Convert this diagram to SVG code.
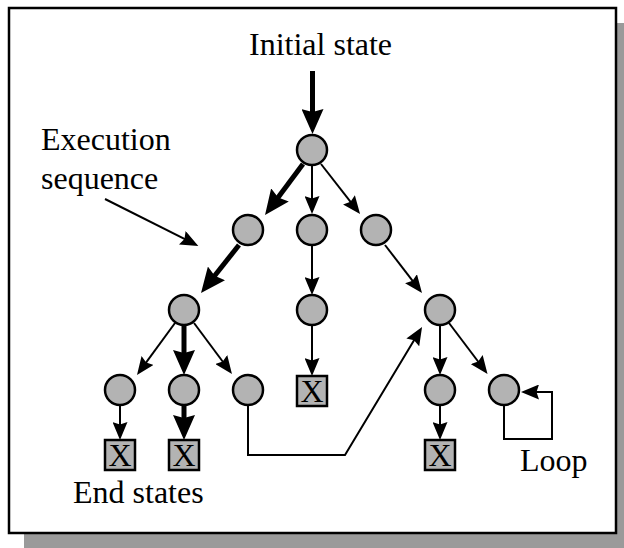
<svg xmlns="http://www.w3.org/2000/svg" width="624" height="548" viewBox="0 0 624 548">
  <style>
    .state { fill: #b3b3b3; stroke: #000; stroke-width: 2.5; }
    .end { fill: #b3b3b3; stroke: #000; stroke-width: 2.5; }
    .lbl { font-family: "Liberation Serif", "Times New Roman", serif; font-size: 32px; fill: #000; }
    .x { font-family: "Liberation Serif", "Times New Roman", serif; font-size: 32px; fill: #000; text-anchor: middle; }
    .thin { fill: none; stroke: #000; stroke-width: 2; marker-end: url(#headThin); }
    .thick { fill: none; stroke: #000; stroke-width: 5; marker-end: url(#headThick); }
  </style>
  <defs>
    <marker id="headThin" markerUnits="userSpaceOnUse" markerWidth="18" markerHeight="15" refX="8" refY="7.5" orient="auto" viewBox="0 0 18 15">
      <path d="M0,0 L18,7.5 L0,15 L2.5,7.5 Z" fill="#000"/>
    </marker>
    <marker id="headThick" markerUnits="userSpaceOnUse" markerWidth="25" markerHeight="22" refX="11" refY="11" orient="auto" viewBox="0 0 25 22">
      <path d="M0,0 L25,11 L0,22 L3,11 Z" fill="#000"/>
    </marker>
  </defs>

  <!-- framed panel with drop shadow -->
  <g id="frame">
    <rect x="24" y="23" width="607" height="530" fill="#9a9a9a"/>
    <rect x="9" y="8" width="607" height="525" fill="#fff" stroke="#000" stroke-width="2.5"/>
  </g>

  <!-- labels -->
  <g id="labels">
    <text class="lbl" x="249" y="55">Initial state</text>
    <text class="lbl" x="41" y="150">Execution</text>
    <text class="lbl" x="41" y="189">sequence</text>
    <text class="lbl" x="73" y="503">End states</text>
    <text class="lbl" x="520" y="471">Loop</text>
  </g>

  <!-- transitions -->
  <g id="connectors">
    <path class="thick" d="M312.5,71 L312.5,120"/>
    <path class="thick" d="M303,164 L273.4,203.8"/>
    <path class="thin" d="M312,165 L312,204"/>
    <path class="thin" d="M321,164 L353.9,206.1"/>
    <path class="thick" d="M239,245 L209.7,282"/>
    <path class="thin" d="M312,245 L312,285"/>
    <path class="thin" d="M385,245 L415.9,285.1"/>
    <path class="thin" d="M175,323 L142.9,366.9"/>
    <path class="thick" d="M184,325 L184,361"/>
    <path class="thin" d="M194,323 L226,366"/>
    <path class="thin" d="M312,325 L312,366"/>
    <path class="thin" d="M440,325 L440,365"/>
    <path class="thin" d="M449,323 L481.5,366"/>
    <path class="thin" d="M120,405 L120,430"/>
    <path class="thick" d="M184,405 L184,426"/>
    <path class="thin" d="M440,405 L440,430"/>
    <path class="thin" d="M248,405 L248,455 L345,455 L416.9,335.6"/>
    <path class="thin" d="M504,405 L504,439 L552,439 L552,392 L531,392"/>
    <!-- pointer from the "Execution sequence" label -->
    <path class="thin" d="M105,199 L189.4,241.4"/>
  </g>

  <!-- states -->
  <g id="s0"><circle class="state" cx="312" cy="150" r="15"/></g>
  <g id="s1"><circle class="state" cx="248" cy="230" r="15"/></g>
  <g id="s2"><circle class="state" cx="312" cy="230" r="15"/></g>
  <g id="s3"><circle class="state" cx="376" cy="230" r="15"/></g>
  <g id="s4"><circle class="state" cx="184" cy="310" r="15"/></g>
  <g id="s5"><circle class="state" cx="312" cy="310" r="15"/></g>
  <g id="s6"><circle class="state" cx="440" cy="310" r="15"/></g>
  <g id="s7"><circle class="state" cx="120" cy="390" r="15"/></g>
  <g id="s8"><circle class="state" cx="184" cy="390" r="15"/></g>
  <g id="s9"><circle class="state" cx="248" cy="390" r="15"/></g>
  <g id="s10"><circle class="state" cx="440" cy="390" r="15"/></g>
  <g id="s11"><circle class="state" cx="504" cy="390" r="15"/></g>

  <!-- end states -->
  <g id="e1"><rect class="end" x="105" y="440" width="30" height="30"/><text class="x" x="120" y="466">X</text></g>
  <g id="e2"><rect class="end" x="169" y="440" width="30" height="30"/><text class="x" x="184" y="466">X</text></g>
  <g id="e3"><rect class="end" x="297" y="376" width="30" height="30"/><text class="x" x="312" y="402">X</text></g>
  <g id="e4"><rect class="end" x="425" y="440" width="30" height="30"/><text class="x" x="440" y="466">X</text></g>
</svg>
